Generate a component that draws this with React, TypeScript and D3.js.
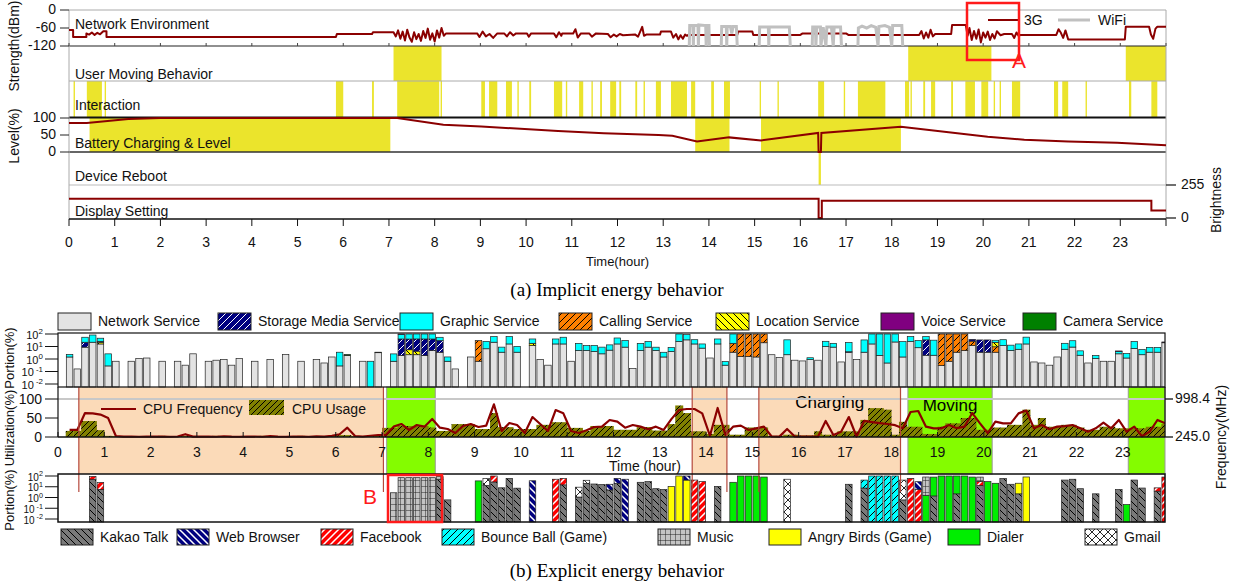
import React from 'react';
import * as d3 from 'd3';

const FONT = 'Arial, "Liberation Sans", sans-serif';
const SERIF = '"Times New Roman", "Liberation Serif", serif';
const DARKRED = '#8b0000';
const YELLOW = '#ebe42c';
const PEACH = '#fbdab8';
const GREEN = '#84fc00';

// ---------- panel (a) data ----------
const hourLabels = d3.range(0, 24);
const chargeBands: [number, number][] = [[0.45, 7.03], [13.7, 14.45], [15.14, 18.2]];
const movingBands: [number, number][] = [[7.1, 8.15], [18.36, 20.18], [23.12, 24]];
const rebootHour = 16.42;

const interaction: [number, number][] = [
  [0.1, 0.13], [0.39, 0.72], [0.78, 0.81], [5.84, 6.0], [6.63, 6.67], [7.18, 8.1], [8.13, 8.16],
  [9.02, 9.1], [9.19, 9.37], [9.56, 9.69], [9.81, 9.84], [10.07, 10.11], [10.61, 10.79], [10.87, 10.9],
  [11.16, 11.25], [11.43, 11.46], [11.62, 11.66], [11.84, 11.97], [12.04, 12.08], [12.39, 12.43],
  [12.57, 12.6], [12.84, 12.95], [13.17, 13.52], [13.61, 13.7], [14.05, 14.11], [14.33, 14.46],
  [15.11, 15.14], [15.5, 15.53], [16.39, 16.52], [16.95, 16.98], [17.26, 17.86], [18.29, 18.38],
  [18.41, 18.44], [18.69, 18.73], [18.86, 18.95], [19.3, 19.34], [19.61, 19.82], [19.96, 20.11],
  [20.23, 20.26], [20.36, 20.39], [20.63, 20.81], [21.55, 21.64], [21.73, 21.86], [22.24, 22.27],
  [23.19, 23.24], [23.68, 23.81],
];

const signal3G: [number, number][] = [
  [0, -67], [0.09, -67], [0.09, -90], [0.38, -90], [0.38, -78], [0.44, -82], [0.5, -75], [0.56, -83],
  [0.62, -76], [0.68, -81], [0.75, -71], [0.82, -71], [0.82, -90], [5.84, -90], [5.86, -80], [6.63, -80],
  [6.65, -74], [7.1, -74], [7.15, -88], [7.2, -68], [7.25, -96], [7.3, -72], [7.35, -102], [7.4, -66],
  [7.45, -92], [7.5, -106], [7.55, -74], [7.6, -97], [7.65, -80], [7.7, -103], [7.75, -70], [7.8, -93],
  [7.85, -62], [7.9, -99], [7.95, -78], [8.0, -105], [8.05, -68], [8.1, -92], [8.15, -60], [8.2, -86],
  [8.25, -78], [8.93, -78], [8.98, -90], [9.05, -72], [9.12, -88], [9.2, -80], [9.28, -93], [9.37, -78],
  [9.52, -78], [9.58, -88], [9.65, -74], [9.72, -85], [9.78, -78], [10.02, -78], [10.06, -89], [10.11, -78],
  [10.61, -78], [10.66, -91], [10.72, -74], [10.77, -86], [10.79, -78], [11.03, -78], [11.08, -64],
  [11.13, -92], [11.2, -78], [11.38, -78], [11.44, -89], [11.53, -78], [11.79, -80], [11.85, -91],
  [11.92, -82], [11.98, -88], [12.05, -80], [12.12, -84], [12.39, -82], [12.45, -89], [12.54, -56],
  [12.58, -86], [12.63, -82], [12.93, -82], [12.95, -72], [13.17, -72], [13.22, -92], [13.28, -80],
  [13.33, -98], [13.38, -84], [13.43, -96], [13.48, -82], [13.52, -86], [13.55, -83], [14.62, -83],
  [14.64, -72], [14.95, -72], [14.97, -83], [16.0, -83], [16.05, -78], [17.0, -78], [17.05, -83],
  [18.6, -83], [18.65, -70], [18.7, -95], [18.75, -75], [18.8, -92], [18.85, -66], [18.9, -88], [18.95, -80],
  [19.3, -80], [19.32, -50], [19.62, -50], [19.66, -86], [19.7, -60], [19.75, -100], [19.8, -70],
  [19.85, -96], [19.9, -65], [19.95, -108], [20.0, -75], [20.05, -92], [20.1, -72], [20.15, -100],
  [20.2, -80], [20.25, -95], [20.3, -71], [20.38, -84], [20.46, -80], [20.63, -80], [20.68, -93],
  [20.73, -75], [20.78, -87], [20.81, -83], [21.6, -83], [21.65, -64], [21.7, -76], [21.75, -93],
  [21.8, -68], [21.86, -98], [23.1, -98], [23.12, -56], [23.63, -56], [23.67, -82], [23.72, -96],
  [23.77, -62], [23.81, -56], [24, -56],
];

const signalWifi: ([number, number] | null)[] = [
  [13.57, -120], [13.58, -52], [13.65, -52], [13.66, -120], [13.67, -52], [13.76, -52], [13.77, -120],
  [13.78, -50], [13.93, -52], [13.94, -120], [13.95, -52], [14.0, -52], [14.01, -120], null,
  [14.27, -120], [14.28, -55], [14.38, -55], [14.39, -120], [14.4, -55], [14.47, -55], [14.5, -78],
  [14.53, -55], [14.6, -55], [14.62, -120], null,
  [15.1, -120], [15.11, -57], [15.3, -57], [15.31, -120], [15.32, -57], [15.76, -57], [15.78, -120], null,
  [16.26, -120], [16.27, -57], [16.33, -57], [16.34, -120], [16.36, -57], [16.44, -57], [16.45, -120],
  [16.5, -57], [16.56, -120], [16.58, -57], [16.68, -57], [16.72, -120], [16.74, -57], [16.88, -57],
  [16.9, -120], null,
  [17.26, -120], [17.27, -60], [17.35, -54], [17.45, -60], [17.55, -52], [17.65, -58], [17.7, -120],
  [17.72, -55], [17.85, -52], [17.95, -58], [18.0, -120], [18.02, -52], [18.22, -52], [18.24, -120],
];

const battery: [number, number][] = [
  [0, 85], [0.39, 85], [1.3, 97], [2.0, 100], [7.18, 100], [8.19, 80], [9.02, 75], [10.7, 62],
  [11.7, 55], [12.9, 50], [13.2, 48], [13.74, 31], [14.44, 43], [15.14, 34], [16.39, 56], [16.4, 0],
  [16.45, 0], [16.46, 56], [18.2, 74], [20.1, 45], [20.9, 36], [21.86, 31], [22.93, 27], [24, 20],
];

const brightness: [number, number][] = [
  [0, 149], [16.4, 149], [16.4, 0], [16.47, 0], [16.47, 134], [23.68, 134], [23.68, 58], [24, 58],
];

// ---------- panel (b) data: 10-minute bins (0..143) ----------
const netSvc = [
  0, 1.45, 0.16, 8.9, 22, 16, 0.28, 0.66, 0, 0.66, 1.07, 1.2,
  0, 0.66, 0, 0.66, 0.32, 2.6, 0, 0.66, 0.8, 0.9, 0.32, 1.07,
  0, 0.66, 0, 0.93, 0, 2.3, 0, 0.66, 0, 0.93, 0.48, 1.45,
  0.28, 1.95, 0, 0.66, 0, 3.2, 0, 0.66, 1.95, 2.2, 2.2, 1.95,
  4.8, 3.5, 0.66, 0.16, 0, 1.45, 0.66, 6.6, 22, 3.5, 16, 3.5,
  0, 12, 0.93, 0.32, 16, 16, 0.66, 4.8, 4.8, 4, 2.6, 5.1,
  16, 8.9, 0.17, 4.8, 8.9, 4.8, 1.45, 4, 25, 34, 16, 7.4,
  1.2, 16, 0.32, 3.5, 1.6, 1.6, 1.45, 20, 2.2, 1.35, 2.2, 0.8,
  0.7, 0.9, 0.8, 10, 8.9, 0.58, 3.5, 0.9, 3.5, 16, 1.95, 0.48,
  23, 1.45, 25, 8, 2, 2, 0.3, 0.66, 3.5, 4.8, 12, 3.5,
  3.5, 3.5, 12, 4.8, 6, 16, 0.58, 0.48, 0.32, 1.45, 6, 9,
  2, 0.48, 1.1, 0.66, 0.66, 2.6, 1.2, 7, 2.2, 3.5, 3.5, 20,
];
const callingSvc: [number, number][] = [[54, 29], [87, 14.5], [88, 98], [89, 98], [90, 98], [91, 80], [114, 99], [115, 99], [116, 96], [117, 95], [118, 15], [121, 6]];
const locationSvc: [number, number][] = [[5, 6], [45, 3.3], [46, 2], [61, 6], [121, 12]];
const storageSvc: [number, number][] = [[3, 13], [5, 4], [44, 38], [45, 34], [46, 36], [47, 38], [48, 35], [49, 26], [102, 0.3], [112, 32], [118, 10], [119, 30], [120, 30]];
const graphicSvc: [number, number][] = [
  [1, 0.85], [3, 33], [4, 61], [5, 20], [6, 2.3], [36, 3.2], [40, 0.66], [43, 1.9], [44, 55], [45, 60],
  [46, 60], [47, 60], [48, 60], [49, 25], [50, 0.8], [55, 19], [56, 40], [57, 5.4], [58, 46], [59, 6.5],
  [61, 22], [64, 24], [65, 39], [67, 13], [68, 7], [69, 8], [70, 6.3], [71, 8.4], [72, 32], [73, 21],
  [75, 13], [76, 16], [77, 4], [78, 2], [79, 4.3], [80, 75], [81, 55], [82, 19], [83, 8.6], [85, 24],
  [86, 0.3], [87, 82], [94, 32], [97, 0.36], [99, 16], [100, 9], [102, 17], [104, 30], [105, 84],
  [106, 98], [107, 99], [108, 77], [109, 23], [110, 37], [111, 22], [112, 28], [113, 30], [121, 10],
  [122, 23], [123, 8], [124, 10], [125, 40], [130, 12], [131, 20], [132, 2.5], [134, 0.8], [137, 1.5],
  [138, 1.5], [139, 18], [140, 3.5], [141, 5], [142, 5],
];
const voiceSvc: [number, number][] = [[44, 5], [137, 0.3], [143, 3]];
const cameraSvc: [number, number][] = [[37, 0.35], [41, 0.3]];

const cpuUsage = [
  0, 16, 16, 42, 42, 18, 3, 2, 2, 2, 2, 2,
  2, 3, 2, 2, 3, 2, 2, 2, 3, 2, 2, 2,
  2, 2, 3, 2, 2, 2, 2, 3, 2, 2, 2, 3,
  5, 5, 2, 2, 2, 3, 24, 24, 29, 29, 29, 29,
  25, 16, 16, 34, 34, 34, 21, 21, 63, 26, 26, 21,
  21, 21, 32, 32, 39, 39, 24, 24, 16, 29, 29, 29,
  19, 19, 19, 26, 26, 17, 17, 34, 83, 63, 15, 15,
  8, 32, 32, 6, 6, 25, 25, 25, 3, 3, 6, 6,
  4, 4, 15, 6, 6, 15, 15, 15, 45, 76, 76, 72,
  6, 40, 27, 27, 8, 8, 27, 36, 36, 50, 50, 19,
  19, 25, 25, 32, 32, 72, 32, 50, 27, 27, 32, 32,
  25, 19, 19, 27, 27, 23, 23, 23, 23, 27, 27, 34,
];
const cpuFreq: (number | null)[] = [
  null, 385, 385, 720, 715, 690, 620, 265, 252, 255, 250, 255,
  252, 255, 250, 255, 300, 252, 255, 252, 250, 260, 252, 250,
  252, 255, 250, 262, 252, 250, 255, 252, 250, 258, 252, 270,
  300, 430, 265, 255, 270, 285, 285, 450, 503, 384, 483, 450,
  602, 430, 403, 324, 463, 503, 443, 470, 893, 364, 522, 483,
  324, 641, 503, 364, 780, 714, 364, 324, 380, 443, 450, 582,
  549, 430, 483, 450, 400, 450, 384, 600, 780, 800, 800, 714,
  270, 820, 285, 450, 470, 384, 417, 450, 256, 252, 404, 255,
  252, 255, 252, 563, 285, 350, 641, 255, 563, 540, 520, 503,
  480, 417, 740, 760, 450, 417, 417, 483, 420, 450, 720, 516,
  324, 549, 516, 516, 714, 770, 417, 483, 400, 450, 460, 483,
  417, 351, 417, 530, 417, 582, 351, 450, 260, 351, 582, 516,
];

const kakaoApp: [number, number][] = [
  [4, 50], [5, 5.7], [49, 50], [50, 0.6], [55, 13], [56, 28], [57, 8], [58, 60], [59, 7.4], [65, 15],
  [67, 1.1], [68, 20], [69, 18], [70, 16], [71, 5], [72, 20], [75, 26], [76, 30], [77, 6.6], [78, 5.5],
  [85, 10.7], [102, 17], [104, 7.6], [109, 0.6], [113, 1.4], [116, 2.2], [119, 13], [122, 58], [123, 17],
  [124, 2.2], [130, 42], [131, 50], [132, 6.6], [134, 2.2], [137, 5.5], [139, 42], [140, 7.6], [142, 3.9],
];
const dialerApp: [number, number][] = [[54, 35], [87, 26], [88, 100], [89, 100], [90, 100], [91, 80], [112, 1.6], [113, 78], [114, 100], [115, 100], [116, 98], [117, 100], [118, 80], [120, 30], [121, 21], [138, 0.22]];
const bounceApp: [number, number][] = [[104, 34], [105, 100], [106, 100], [107, 100], [108, 100]];
const angryApp: [number, number][] = [[79, 10.7], [80, 100], [81, 42], [124, 19], [125, 81]];
const facebookApp: [number, number][] = [[4, 40], [5, 19], [56, 72], [64, 50], [65, 45], [82, 42], [83, 30], [110, 60], [111, 5.5], [119, 19], [142, 4], [143, 80]];
const webApp: [number, number][] = [[61, 36], [71, 12], [72, 40], [73, 50], [81, 58], [111, 24]];
const musicApp: [number, number][] = [[43, 2.75], [44, 70], [45, 70], [46, 70], [47, 70], [48, 70], [49, 37], [112, 79], [119, 47]];
const gmailApp: [number, number][] = [[55, 45], [67, 8], [68, 20], [94, 50], [109, 41]];

const svcLegend = ['Network Service', 'Storage Media Service', 'Graphic Service', 'Calling Service', 'Location Service', 'Voice Service', 'Camera Service'];
const appLegend = ['Kakao Talk', 'Web Browser', 'Facebook', 'Bounce Ball (Game)', 'Music', 'Angry Birds (Game)', 'Dialer', 'Gmail'];

const NBINS = 144;
const dense = (pairs: [number, number][]) => {
  const a = new Array(NBINS).fill(0);
  pairs.forEach(([i, v]) => { a[i] = v; });
  return a;
};

const FILL: Record<string, string> = {
  'Network Service': '#e3e3e3',
  'Storage Media Service': 'url(#pStorage)',
  'Graphic Service': '#00ffff',
  'Calling Service': 'url(#pCalling)',
  'Location Service': 'url(#pLocation)',
  'Voice Service': '#800080',
  'Camera Service': '#008000',
  'Kakao Talk': 'url(#pKakao)',
  'Web Browser': 'url(#pWeb)',
  'Facebook': 'url(#pFacebook)',
  'Bounce Ball (Game)': 'url(#pBounce)',
  'Music': 'url(#pMusic)',
  'Angry Birds (Game)': '#ffff00',
  'Dialer': '#00ee00',
  'Gmail': 'url(#pGmail)',
};

function Hatch({ id, bg, fg, dir, size = 6, sw = 1 }: { id: string; bg: string; fg: string; dir: 'f' | 'b'; size?: number; sw?: number }) {
  const s = size;
  const d = dir === 'f'
    ? `M0,${s} L${s},0 M${-s / 2},${s / 2} L${s / 2},${-s / 2} M${s / 2},${s * 1.5} L${s * 1.5},${s / 2}`
    : `M0,0 L${s},${s} M${-s / 2},${s / 2} L${s / 2},${s * 1.5} M${s / 2},${-s / 2} L${s * 1.5},${s / 2}`;
  return (
    <pattern id={id} patternUnits="userSpaceOnUse" width={s} height={s}>
      <rect width={s} height={s} fill={bg} />
      <path d={d} stroke={fg} strokeWidth={sw} />
    </pattern>
  );
}

// "10" with a raised exponent, drawn as two small texts so each stays compact
function Pow10({ x, y, e, size = 11 }: { x: number; y: number; e: number; size?: number }) {
  const es = size * 0.72;
  const ew = String(e).length * es * 0.58;
  return (
    <g fontFamily={FONT} fill="#111">
      <text x={x - ew} y={y} textAnchor="end" fontSize={size} dominantBaseline="middle">10</text>
      <text x={x} y={y - size * 0.35} textAnchor="end" fontSize={es} dominantBaseline="middle">{e}</text>
    </g>
  );
}

export default function App() {
  const xt = d3.scaleLinear().domain([0, 24]).range([69, 1166]);
  const xb = d3.scaleLinear().domain([0, 24]).range([58, 1169]);
  const ySig = d3.scaleLinear().domain([-120, 0]).range([46, 10]);
  const yBat = d3.scaleLinear().domain([0, 100]).range([152, 118]);
  const yBri = d3.scaleLinear().domain([0, 255]).range([218, 185]);
  const yP = d3.scaleLog().domain([0.01, 100]).range([384, 334]);
  const yU = d3.scaleLinear().domain([0, 100]).range([437, 399]);
  const yF = d3.scaleLinear().domain([245, 998.4]).range([437, 399]);
  const yA = d3.scaleLog().domain([0.01, 100]).range([519, 476]);
  const bw = xb(1 / 6) - xb(0);

  const sigPath = d3.line<[number, number]>().x(d => xt(d[0])).y(d => ySig(d[1]))(signal3G) || '';
  const wifiPath = d3.line<[number, number] | null>().defined(d => d !== null)
    .x(d => xt((d as [number, number])[0])).y(d => ySig((d as [number, number])[1]))(signalWifi) || '';
  const batPath = d3.line<[number, number]>().x(d => xt(d[0])).y(d => yBat(d[1]))(battery) || '';
  const briPath = d3.line<[number, number]>().x(d => xt(d[0])).y(d => yBri(d[1]))(brightness) || '';
  const freqPts = cpuFreq.map((f, i) => [i / 6 + 1 / 12, f] as [number, number | null]);
  const freqPath = d3.line<[number, number | null]>().defined(d => d[1] !== null)
    .x(d => xb(d[0])).y(d => yF(d[1] as number))(freqPts) || '';

  const stack = (layers: { vals: number[]; fill: string }[], y: d3.ScaleLogarithmic<number, number>, bottom: number, top: number, tag: string) => {
    const out: React.ReactElement[] = [];
    for (let i = 0; i < NBINS; i++) {
      let cum = 0;
      layers.forEach((l, k) => {
        const v = l.vals[i];
        if (!v) return;
        const y0 = cum > 0 ? Math.min(bottom, y(cum)) : bottom;
        cum += v;
        const y1 = Math.max(top, Math.min(bottom, y(cum)));
        out.push(
          <rect key={`${tag}${i}-${k}`} x={xb(i / 6) + 0.6} width={bw - 1.2} y={y1} height={Math.max(0, y0 - y1)}
            fill={l.fill} stroke="#222" strokeWidth={0.7} />
        );
      });
    }
    return out;
  };

  const svcLayers = [
    { vals: netSvc, fill: FILL['Network Service'] },
    { vals: dense(callingSvc), fill: FILL['Calling Service'] },
    { vals: dense(locationSvc), fill: FILL['Location Service'] },
    { vals: dense(storageSvc), fill: FILL['Storage Media Service'] },
    { vals: dense(graphicSvc), fill: FILL['Graphic Service'] },
    { vals: dense(voiceSvc), fill: FILL['Voice Service'] },
    { vals: dense(cameraSvc), fill: FILL['Camera Service'] },
  ];
  const appLayers = [
    { vals: dense(kakaoApp), fill: FILL['Kakao Talk'] },
    { vals: dense(dialerApp), fill: FILL['Dialer'] },
    { vals: dense(bounceApp), fill: FILL['Bounce Ball (Game)'] },
    { vals: dense(angryApp), fill: FILL['Angry Birds (Game)'] },
    { vals: dense(facebookApp), fill: FILL['Facebook'] },
    { vals: dense(webApp), fill: FILL['Web Browser'] },
    { vals: dense(musicApp), fill: FILL['Music'] },
    { vals: dense(gmailApp), fill: FILL['Gmail'] },
  ];

  const svcLegendX = [58, 218, 400, 559, 716, 881, 1023];
  const appLegendX = [61, 177, 321, 442, 658, 769, 948, 1085];
  const txt = { fontFamily: FONT, fontSize: 14, fill: '#111' };
  const ytxt = { fontFamily: FONT, fontSize: 13, fill: '#111' };
  const logExps = [2, 1, 0, -1, -2];

  return (
    <svg width={1233} height={583} style={{ position: 'absolute', left: 0, top: 0, background: '#fff' }}>
      <defs>
        <Hatch id="pStorage" bg="#000080" fg="#fff" dir="f" size={7} />
        <Hatch id="pCalling" bg="#ff8000" fg="#000" dir="f" size={7} />
        <Hatch id="pLocation" bg="#ffff00" fg="#000" dir="b" size={7} />
        <Hatch id="pKakao" bg="#7a7a7a" fg="#000" dir="b" size={7} />
        <Hatch id="pWeb" bg="#000080" fg="#fff" dir="b" size={7} sw={1.5} />
        <Hatch id="pFacebook" bg="#ff0000" fg="#fff" dir="f" size={7} sw={1.5} />
        <Hatch id="pBounce" bg="#00ffff" fg="#000" dir="f" size={7} />
        <Hatch id="pCpu" bg="#808000" fg="#000" dir="f" size={6} />
        <pattern id="pMusic" patternUnits="userSpaceOnUse" width={5} height={6}>
          <rect width={5} height={6} fill="#c4c4c4" />
          <path d="M0,0 V6 M0,0 H5" stroke="#111" strokeWidth={0.9} />
        </pattern>
        <pattern id="pGmail" patternUnits="userSpaceOnUse" width={8} height={8}>
          <rect width={8} height={8} fill="#fff" />
          <path d="M0,0 L8,8 M8,0 L0,8" stroke="#111" strokeWidth={0.9} />
        </pattern>
        <clipPath id="clipTop"><rect x={69} y={0} width={1097} height={230} /></clipPath>
        <clipPath id="clipBot"><rect x={58} y={300} width={1107} height={240} /></clipPath>
      </defs>

      {/* ================= (a) Implicit energy behavior ================= */}
      <g clipPath="url(#clipTop)">
        {movingBands.map(([a, b], i) => (
          <rect key={`mv${i}`} x={xt(a)} y={46} width={xt(b) - xt(a)} height={35} fill={YELLOW} />
        ))}
        {interaction.map(([a, b], i) => (
          <rect key={`in${i}`} x={xt(a)} y={81} width={Math.max(1.2, xt(b) - xt(a))} height={36} fill={YELLOW} />
        ))}
        {chargeBands.map(([a, b], i) => (
          <rect key={`ch${i}`} x={xt(a)} y={118} width={xt(b) - xt(a)} height={34} fill={YELLOW} />
        ))}
        <rect x={xt(rebootHour - 0.02)} y={152} width={xt(rebootHour + 0.03) - xt(rebootHour - 0.02)} height={33} fill={YELLOW} />
      </g>

      {/* frame lines */}
      <line x1={69} x2={1166} y1={10} y2={10} stroke="#aaa" />
      <line x1={69} x2={1166} y1={46} y2={46} stroke="#222" strokeWidth={1.2} />
      <line x1={69} x2={1166} y1={81} y2={81} stroke="#aaa" />
      <line x1={69} x2={1166} y1={117.5} y2={117.5} stroke="#111" strokeWidth={2} />
      <line x1={69} x2={1166} y1={152} y2={152} stroke="#333" strokeWidth={1.5} />
      <line x1={69} x2={1166} y1={185} y2={185} stroke="#bbb" />
      <line x1={69} x2={69} y1={10} y2={219} stroke="#aaa" />
      <line x1={1166} x2={1166} y1={10} y2={219} stroke="#aaa" />
      {d3.range(0, 25).map(h => (
        <line key={`t46-${h}`} x1={xt(h)} x2={xt(h)} y1={46} y2={43} stroke="#444" />
      ))}

      <g clipPath="url(#clipTop)">
        <path d={sigPath} fill="none" stroke={DARKRED} strokeWidth={2} strokeLinejoin="round" />
        <path d={wifiPath} fill="none" stroke="#c0c0c0" strokeWidth={3} />
        <path d={batPath} fill="none" stroke={DARKRED} strokeWidth={2} />
        <path d={briPath} fill="none" stroke={DARKRED} strokeWidth={2} />
      </g>

      {/* panel labels */}
      <text x={75} y={29} {...txt}>Network Environment</text>
      <text x={75} y={79} {...txt}>User Moving Behavior</text>
      <text x={75} y={110} {...txt}>Interaction</text>
      <text x={75} y={148} {...txt}>Battery Charging &amp; Level</text>
      <text x={75} y={181} {...txt}>Device Reboot</text>
      <text x={75} y={216} {...txt}>Display Setting</text>

      {/* network legend */}
      <line x1={988} x2={1018} y1={20} y2={20} stroke={DARKRED} strokeWidth={2} />
      <text x={1024} y={25} {...txt}>3G</text>
      <line x1={1058} x2={1090} y1={20} y2={20} stroke="#c0c0c0" strokeWidth={3} />
      <text x={1098} y={25} {...txt}>WiFi</text>

      {/* left axes */}
      {[0, -60, -120].map(v => (
        <g key={`sy${v}`}>
          <line x1={60} x2={69} y1={ySig(v)} y2={ySig(v)} stroke="#222" />
          <text x={56} y={ySig(v)} textAnchor="end" dominantBaseline="middle" {...txt}>{v}</text>
        </g>
      ))}
      {[100, 50, 0].map(v => (
        <g key={`by${v}`}>
          <line x1={60} x2={69} y1={yBat(v)} y2={yBat(v)} stroke="#222" />
          <text x={56} y={yBat(v)} textAnchor="end" dominantBaseline="middle" {...txt}>{v}</text>
        </g>
      ))}
      <text transform="translate(19,46) rotate(-90)" textAnchor="middle" {...txt}>Strength(dBm)</text>
      <text transform="translate(19,136) rotate(-90)" textAnchor="middle" {...txt}>Level(%)</text>

      {/* right brightness axis */}
      {[255, 0].map(v => (
        <g key={`br${v}`}>
          <line x1={1166} x2={1176} y1={yBri(v)} y2={yBri(v)} stroke="#222" strokeWidth={1.3} />
          <text x={1181} y={yBri(v)} dominantBaseline="middle" {...txt}>{v}</text>
        </g>
      ))}
      <text transform="translate(1221,200) rotate(-90)" textAnchor="middle" {...txt}>Brightness</text>

      {/* x axis (a) */}
      <line x1={69} x2={1166} y1={219} y2={219} stroke="#111" strokeWidth={1.5} />
      {d3.range(0, 25).map(h => (
        <line key={`xt${h}`} x1={xt(h)} x2={xt(h)} y1={219} y2={226} stroke="#111" />
      ))}
      {hourLabels.map(h => (
        <text key={`xl${h}`} x={xt(h)} y={247} textAnchor="middle" {...txt}>{h}</text>
      ))}
      <text x={xt(12)} y={266} textAnchor="middle" {...txt} fontSize={13}>Time(hour)</text>

      {/* marker A */}
      <rect x={967} y={3} width={52} height={57} fill="none" stroke="#ff1a1a" strokeWidth={2.5} />
      <text x={1012} y={68} fontFamily={FONT} fontSize={21} fill="#ff1a1a">A</text>

      <text x={617} y={296} textAnchor="middle" fontFamily={SERIF} fontSize={19}>(a) Implicit energy behavior</text>

      {/* ================= (b) Explicit energy behavior ================= */}
      {svcLegend.map((s, i) => (
        <g key={`sl${i}`}>
          <rect x={svcLegendX[i]} y={313} width={33} height={17} fill={FILL[s]} stroke="#222" />
          <text x={svcLegendX[i] + 40} y={326} {...txt}>{s}</text>
        </g>
      ))}

      {/* background bands CPU area */}
      {chargeBands.map(([a, b], i) => (
        <rect key={`pb${i}`} x={xb(a)} y={387} width={xb(b) - xb(a)} height={87} fill={PEACH} />
      ))}
      {movingBands.map(([a, b], i) => (
        <rect key={`gb${i}`} x={xb(a)} y={387} width={Math.min(1165, xb(b)) - xb(a)} height={87} fill={GREEN} stroke="#9a9a9a" strokeWidth={1} />
      ))}
      <text x={(xb(chargeBands[2][0]) + xb(chargeBands[2][1])) / 2} y={408} textAnchor="middle" fontFamily={FONT} fontSize={17}>Charging</text>
      <text x={(xb(movingBands[1][0]) + xb(movingBands[1][1])) / 2} y={411} textAnchor="middle" fontFamily={FONT} fontSize={17}>Moving</text>

      <line x1={58} x2={1165} y1={yU(100)} y2={yU(100)} stroke="#c8c8c8" strokeWidth={2} />

      <g clipPath="url(#clipBot)">
        {stack(svcLayers, yP, 387, 333, 's')}
        {cpuUsage.map((v, i) => v > 0 ? (
          <rect key={`cu${i}`} x={xb(i / 6)} y={yU(v)} width={bw + 0.3} height={yU(0) - yU(v)} fill="url(#pCpu)" />
        ) : null)}
        <path d={freqPath} fill="none" stroke={DARKRED} strokeWidth={2.2} strokeLinejoin="round" />
        {stack(appLayers, yA, 522, 474, 'a')}
      </g>

      {/* peach band edges */}
      {chargeBands.flatMap(([a, b], i) => [a, b].map((h, k) => (
        <line key={`pe${i}-${k}`} x1={xb(h)} x2={xb(h)} y1={387} y2={492} stroke="#b5483c" strokeWidth={1.2} />
      )))}

      {/* frames */}
      <rect x={58} y={333} width={1107} height={54} fill="none" stroke="#111" strokeWidth={1.2} />
      <line x1={58} x2={58} y1={387} y2={437} stroke="#111" strokeWidth={1.2} />
      <line x1={1165} x2={1165} y1={387} y2={437} stroke="#111" strokeWidth={1.2} />
      <line x1={58} x2={1165} y1={437} y2={437} stroke="#111" strokeWidth={1.5} />
      <rect x={58} y={474} width={1107} height={48} fill="none" stroke="#111" strokeWidth={1.5} />

      {/* log axis service */}
      {logExps.map(e => (
        <g key={`py${e}`}>
          <line x1={45} x2={58} y1={yP(Math.pow(10, e))} y2={yP(Math.pow(10, e))} stroke="#111" />
          <Pow10 x={43} y={yP(Math.pow(10, e)) + 2} e={e} size={11} />
        </g>
      ))}
      <text transform="translate(14,358) rotate(-90)" textAnchor="middle" {...ytxt}>Portion(%)</text>

      {/* utilization axis */}
      {[0, 50, 100].map(v => (
        <g key={`uy${v}`}>
          <line x1={45} x2={58} y1={yU(v)} y2={yU(v)} stroke="#111" />
          <text x={42} y={yU(v) + 1} textAnchor="end" dominantBaseline="middle" {...txt}>{v}</text>
        </g>
      ))}
      <text transform="translate(14,428) rotate(-90)" textAnchor="middle" {...ytxt}>Utilization(%)</text>

      {/* frequency axis */}
      {[998.4, 245.0].map(v => (
        <g key={`fy${v}`}>
          <line x1={1165} x2={1173} y1={yF(v)} y2={yF(v)} stroke="#111" strokeWidth={1.3} />
          <text x={1175} y={yF(v)} dominantBaseline="middle" {...txt}>{v.toFixed(1)}</text>
        </g>
      ))}
      <text transform="translate(1226,437) rotate(-90)" textAnchor="middle" {...txt}>Frequency(MHz)</text>

      {/* x axis (b) */}
      {hourLabels.map(h => (
        <g key={`bx${h}`}>
          <line x1={xb(h)} x2={xb(h)} y1={437} y2={432} stroke="#111" />
          <text x={xb(h)} y={457} textAnchor="middle" {...txt}>{h}</text>
        </g>
      ))}
      <text x={645} y={471} textAnchor="middle" {...txt}>Time (hour)</text>

      {/* CPU legend */}
      <line x1={101} x2={136} y1={409} y2={409} stroke={DARKRED} strokeWidth={2.2} />
      <text x={143} y={414} {...txt}>CPU Frequency</text>
      <rect x={249} y={400} width={35} height={15} fill="url(#pCpu)" />
      <text x={292} y={414} {...txt}>CPU Usage</text>

      {/* app log axis */}
      {logExps.map(e => (
        <g key={`ay${e}`}>
          <line x1={45} x2={58} y1={yA(Math.pow(10, e))} y2={yA(Math.pow(10, e))} stroke="#111" />
          <Pow10 x={43} y={yA(Math.pow(10, e)) + 2} e={e} size={10} />
        </g>
      ))}
      <text transform="translate(14,500) rotate(-90)" textAnchor="middle" {...ytxt}>Portion(%)</text>

      {/* marker B */}
      <rect x={388} y={475} width={54} height={47} fill="none" stroke="#ff1a1a" strokeWidth={2.5} />
      <text x={363} y={504} fontFamily={FONT} fontSize={21} fill="#ff1a1a">B</text>

      {/* app legend */}
      {appLegend.map((s, i) => (
        <g key={`al${i}`}>
          <rect x={appLegendX[i]} y={529} width={32} height={16} fill={FILL[s]} stroke="#222" />
          <text x={appLegendX[i] + 39} y={542} {...txt}>{s}</text>
        </g>
      ))}

      <text x={617} y={577} textAnchor="middle" fontFamily={SERIF} fontSize={19}>(b) Explicit energy behavior</text>
    </svg>
  );
}
